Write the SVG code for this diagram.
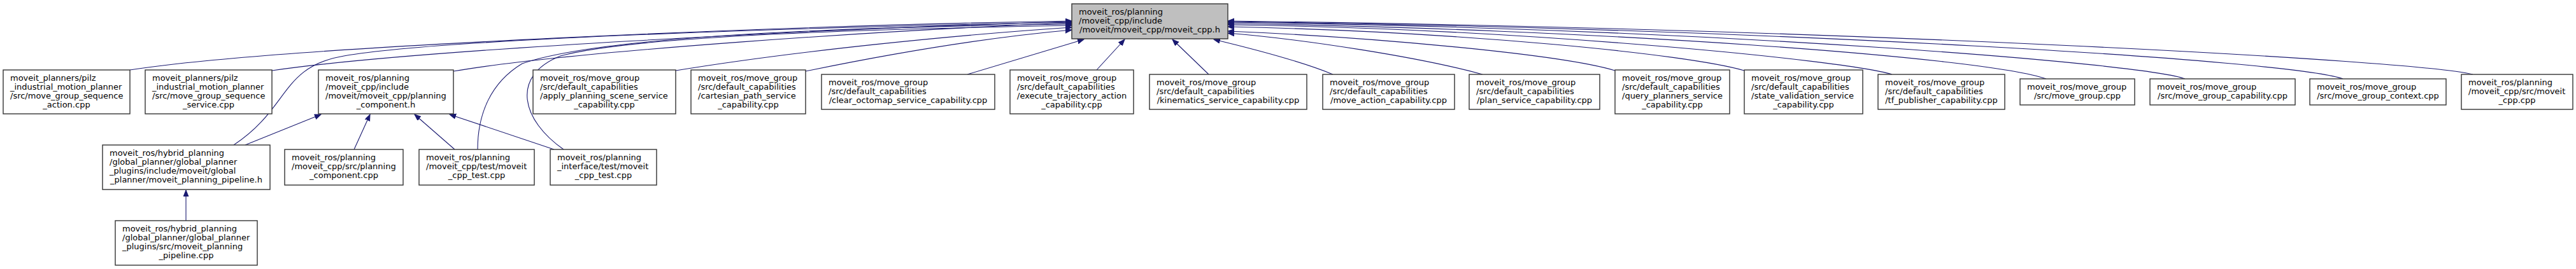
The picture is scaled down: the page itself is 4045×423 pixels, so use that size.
<svg xmlns="http://www.w3.org/2000/svg" width="4045" height="423" viewBox="0 0 4045 423">
<style>
.bx{fill:#ffffff;stroke:#333333;stroke-width:1.4}
.rt{fill:#bfbfbf;stroke:#333333;stroke-width:1.4}
text{font-family:"DejaVu Sans","Liberation Sans",sans-serif;font-size:13px;fill:#000}
.m{text-anchor:middle}
.e{fill:none;stroke:#191970;stroke-width:1.1;marker-end:url(#ah)}
</style>
<defs>
<marker id="ah" markerWidth="12" markerHeight="10" refX="10" refY="4" orient="auto" markerUnits="userSpaceOnUse"><path d="M0,0 L10,4 L0,8 Z" fill="#191970" stroke="#191970" stroke-width="1"/></marker>
</defs>
<rect width="4045" height="423" fill="#ffffff"/>
<g id="edges">
<path class="e" d="M204,110 C450,72 1250,40 1683,33"/>
<path class="e" d="M427,111 C650,78 1300,45 1683,34"/>
<path class="e" d="M367,228 C455,170 440,105 540,88 C700,60 1300,42 1683,35"/>
<path class="e" d="M712,112 C900,80 1400,47 1683,36"/>
<path class="e" d="M750,235 C750,180 770,130 820,100 C950,55 1350,42 1683,38"/>
<path class="e" d="M885,235 C820,190 800,120 880,88 C1000,55 1400,45 1683,40"/>
<path class="e" d="M1061,111 C1250,80 1500,55 1683,43"/>
<path class="e" d="M1265,112 C1420,80 1560,58 1683,47"/>
<path class="e" d="M1519,117 L1702,62"/>
<path class="e" d="M1722,110 L1766,62"/>
<path class="e" d="M1898,117 L1841,62"/>
<path class="e" d="M2093,117 C2040,95 1960,75 1906,62"/>
<path class="e" d="M2328,117 C2230,90 2050,62 1928,52"/>
<path class="e" d="M2536,111 C2450,85 2150,58 1928,49"/>
<path class="e" d="M2739,111 C2650,85 2300,50 1928,42"/>
<path class="e" d="M2971,117 C2900,95 2400,45 1928,39"/>
<path class="e" d="M3213,124 C3120,90 2500,45 1928,37"/>
<path class="e" d="M3431,124 C3370,100 2700,45 1928,35"/>
<path class="e" d="M3679,124 C3600,95 2800,45 1928,34"/>
<path class="e" d="M3883,117 C3800,95 2900,45 1928,33"/>
<path class="e" d="M385,228 L504,180"/>
<path class="e" d="M556,235 L581,180"/>
<path class="e" d="M714,235 L651,180"/>
<path class="e" d="M870,235 L706,180"/>
<path class="e" d="M292,347 L292,299"/>
</g>
<g id="node-root">
<rect class="rt" x="1683" y="6" width="245" height="55"/>
<text x="1694" y="22.5">moveit_ros/planning</text>
<text x="1694" y="36.5">/moveit_cpp/include</text>
<text class="m" x="1805.5" y="50.5">/moveit/moveit_cpp/moveit_cpp.h</text>
</g>
<g id="node-seq-action">
<rect class="bx" x="5" y="110" width="199" height="69"/>
<text x="16" y="126.5">moveit_planners/pilz</text>
<text x="16" y="140.5">_industrial_motion_planner</text>
<text x="16" y="154.5">/src/move_group_sequence</text>
<text class="m" x="104.5" y="168.5">_action.cpp</text>
</g>
<g id="node-seq-service">
<rect class="bx" x="228" y="110" width="199" height="69"/>
<text x="239" y="126.5">moveit_planners/pilz</text>
<text x="239" y="140.5">_industrial_motion_planner</text>
<text x="239" y="154.5">/src/move_group_sequence</text>
<text class="m" x="327.5" y="168.5">_service.cpp</text>
</g>
<g id="node-planning-component-h">
<rect class="bx" x="500" y="110" width="212" height="69"/>
<text x="511" y="126.5">moveit_ros/planning</text>
<text x="511" y="140.5">/moveit_cpp/include</text>
<text x="511" y="154.5">/moveit/moveit_cpp/planning</text>
<text class="m" x="606" y="168.5">_component.h</text>
</g>
<g id="node-apply-planning-scene">
<rect class="bx" x="837" y="110" width="224" height="69"/>
<text x="848" y="126.5">moveit_ros/move_group</text>
<text x="848" y="140.5">/src/default_capabilities</text>
<text x="848" y="154.5">/apply_planning_scene_service</text>
<text class="m" x="949" y="168.5">_capability.cpp</text>
</g>
<g id="node-cartesian-path">
<rect class="bx" x="1085" y="110" width="180" height="69"/>
<text x="1096" y="126.5">moveit_ros/move_group</text>
<text x="1096" y="140.5">/src/default_capabilities</text>
<text x="1096" y="154.5">/cartesian_path_service</text>
<text class="m" x="1175" y="168.5">_capability.cpp</text>
</g>
<g id="node-clear-octomap">
<rect class="bx" x="1290" y="117" width="272" height="55"/>
<text x="1301" y="133.5">moveit_ros/move_group</text>
<text x="1301" y="147.5">/src/default_capabilities</text>
<text class="m" x="1426" y="161.5">/clear_octomap_service_capability.cpp</text>
</g>
<g id="node-execute-trajectory">
<rect class="bx" x="1586" y="110" width="194" height="69"/>
<text x="1597" y="126.5">moveit_ros/move_group</text>
<text x="1597" y="140.5">/src/default_capabilities</text>
<text x="1597" y="154.5">/execute_trajectory_action</text>
<text class="m" x="1683" y="168.5">_capability.cpp</text>
</g>
<g id="node-kinematics">
<rect class="bx" x="1805" y="117" width="247" height="55"/>
<text x="1816" y="133.5">moveit_ros/move_group</text>
<text x="1816" y="147.5">/src/default_capabilities</text>
<text class="m" x="1928.5" y="161.5">/kinematics_service_capability.cpp</text>
</g>
<g id="node-move-action">
<rect class="bx" x="2077" y="117" width="207" height="55"/>
<text x="2088" y="133.5">moveit_ros/move_group</text>
<text x="2088" y="147.5">/src/default_capabilities</text>
<text class="m" x="2180.5" y="161.5">/move_action_capability.cpp</text>
</g>
<g id="node-plan-service">
<rect class="bx" x="2307" y="117" width="205" height="55"/>
<text x="2318" y="133.5">moveit_ros/move_group</text>
<text x="2318" y="147.5">/src/default_capabilities</text>
<text class="m" x="2409.5" y="161.5">/plan_service_capability.cpp</text>
</g>
<g id="node-query-planners">
<rect class="bx" x="2536" y="110" width="180" height="69"/>
<text x="2547" y="126.5">moveit_ros/move_group</text>
<text x="2547" y="140.5">/src/default_capabilities</text>
<text x="2547" y="154.5">/query_planners_service</text>
<text class="m" x="2626" y="168.5">_capability.cpp</text>
</g>
<g id="node-state-validation">
<rect class="bx" x="2739" y="110" width="186" height="69"/>
<text x="2750" y="126.5">moveit_ros/move_group</text>
<text x="2750" y="140.5">/src/default_capabilities</text>
<text x="2750" y="154.5">/state_validation_service</text>
<text class="m" x="2832" y="168.5">_capability.cpp</text>
</g>
<g id="node-tf-publisher">
<rect class="bx" x="2949" y="117" width="199" height="55"/>
<text x="2960" y="133.5">moveit_ros/move_group</text>
<text x="2960" y="147.5">/src/default_capabilities</text>
<text class="m" x="3048.5" y="161.5">/tf_publisher_capability.cpp</text>
</g>
<g id="node-move-group">
<rect class="bx" x="3172" y="124" width="180" height="41"/>
<text x="3183" y="140.5">moveit_ros/move_group</text>
<text class="m" x="3262" y="154.5">/src/move_group.cpp</text>
</g>
<g id="node-move-group-capability">
<rect class="bx" x="3376" y="124" width="228" height="41"/>
<text x="3387" y="140.5">moveit_ros/move_group</text>
<text class="m" x="3490" y="154.5">/src/move_group_capability.cpp</text>
</g>
<g id="node-move-group-context">
<rect class="bx" x="3627" y="124" width="214" height="41"/>
<text x="3638" y="140.5">moveit_ros/move_group</text>
<text class="m" x="3734" y="154.5">/src/move_group_context.cpp</text>
</g>
<g id="node-moveit-cpp-cpp">
<rect class="bx" x="3865" y="117" width="175" height="55"/>
<text x="3876" y="133.5">moveit_ros/planning</text>
<text x="3876" y="147.5">/moveit_cpp/src/moveit</text>
<text class="m" x="3952.5" y="161.5">_cpp.cpp</text>
</g>
<g id="node-hybrid-pipeline-h">
<rect class="bx" x="161" y="228" width="263" height="70"/>
<text x="172" y="245">moveit_ros/hybrid_planning</text>
<text x="172" y="259">/global_planner/global_planner</text>
<text x="172" y="273">_plugins/include/moveit/global</text>
<text class="m" x="292.5" y="287">_planner/moveit_planning_pipeline.h</text>
</g>
<g id="node-planning-component-cpp">
<rect class="bx" x="447" y="235" width="186" height="56"/>
<text x="458" y="252">moveit_ros/planning</text>
<text x="458" y="266">/moveit_cpp/src/planning</text>
<text class="m" x="540" y="280">_component.cpp</text>
</g>
<g id="node-moveit-cpp-test">
<rect class="bx" x="658" y="235" width="181" height="56"/>
<text x="669" y="252">moveit_ros/planning</text>
<text x="669" y="266">/moveit_cpp/test/moveit</text>
<text class="m" x="748.5" y="280">_cpp_test.cpp</text>
</g>
<g id="node-interface-test">
<rect class="bx" x="864" y="235" width="167" height="56"/>
<text x="875" y="252">moveit_ros/planning</text>
<text x="875" y="266">_interface/test/moveit</text>
<text class="m" x="947.5" y="280">_cpp_test.cpp</text>
</g>
<g id="node-hybrid-pipeline-cpp">
<rect class="bx" x="181" y="347" width="223" height="70"/>
<text x="192" y="364">moveit_ros/hybrid_planning</text>
<text x="192" y="378">/global_planner/global_planner</text>
<text x="192" y="392">_plugins/src/moveit_planning</text>
<text class="m" x="292.5" y="406">_pipeline.cpp</text>
</g>
</svg>
